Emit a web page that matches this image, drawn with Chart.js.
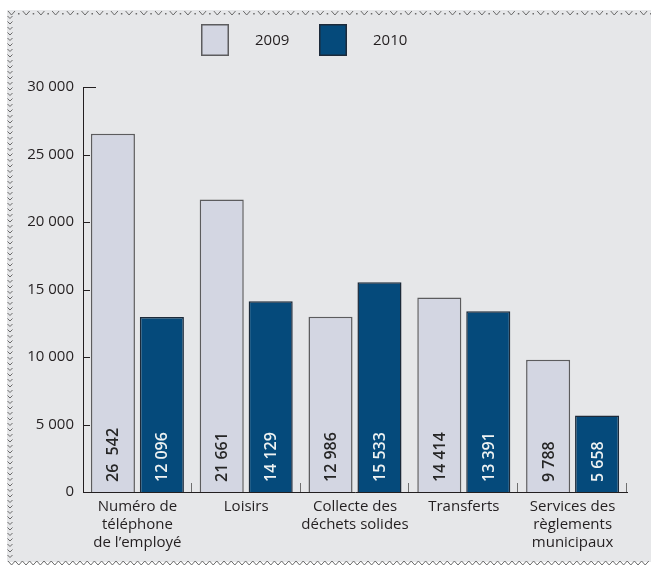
<!DOCTYPE html>
<html>
<head>
<meta charset="utf-8">
<script src="https://cdn.jsdelivr.net/npm/chart.js@4/dist/chart.umd.min.js"></script>
<style>
  html, body { margin: 0; padding: 0; background: #fff; }
  #wrap { width: 651px; height: 565px; position: relative; }
</style>
</head>
<body>
<div id="wrap"><canvas id="chart"></canvas></div>
<script>
const categories = [
  ['Numéro de', 'téléphone', 'de l’employé'],
  'Loisirs',
  ['Collecte des', 'déchets solides'],
  'Transferts',
  ['Services des', 'règlements', 'municipaux']
];
const seriesNames = ['2009', '2010'];
const values2009 = [26542, 21661, 12986, 14414, 9788];
// first 2010 bar is drawn near 13 000 in the source although printed 12 096
const values2010 = [12960, 14129, 15533, 13391, 5658];
const labels2009 = ['26  542', '21 661', '12 986', '14 414', '9 788'];
const labels2010 = ['12 096', '14 129', '15 533', '13 391', '5 658'];
const yMin = 0;
const yMax = 30000;
const yStep = 5000;

const FONT = '"Open Sans", "Noto Sans", sans-serif';
const INK = '#231f20';

function fmt(v) {
  return String(v).replace(/\B(?=(\d{3})+(?!\d))/g, ' ');
}

// page frame: grey panel with the little chevron border
const framePlugin = {
  id: 'frame',
  beforeDraw(chart) {
    const ctx = chart.ctx;
    const W = chart.width, H = chart.height;
    ctx.save();
    ctx.fillStyle = '#ffffff';
    ctx.fillRect(0, 0, W, H);
    ctx.fillStyle = '#e6e7e9';
    ctx.fillRect(7, 10, W - 7, 552);
    ctx.strokeStyle = '#6a6a6a';
    ctx.fillStyle = '#6a6a6a';
    ctx.lineWidth = 1;
    // top
    for (let x = 8; x < W; x += 14.7) {
      ctx.beginPath();
      ctx.moveTo(x, 11);
      ctx.lineTo(x + 3.5, 15);
      ctx.lineTo(x + 7, 11);
      ctx.stroke();
      ctx.fillRect(x + 10, 13, 1.5, 1.5);
    }
    // left
    for (let y = 16; y < 560; y += 5.5) {
      ctx.beginPath();
      ctx.moveTo(7.5, y);
      ctx.lineTo(10, y + 2.5);
      ctx.lineTo(12.5, y);
      ctx.stroke();
    }
    // bottom
    ctx.beginPath();
    for (let x = 8, up = true; x < W; x += 3.6, up = !up) {
      ctx.lineTo(x, up ? 561 : 565);
    }
    ctx.stroke();
    ctx.restore();
  }
};

// legend, inner axis ticks, category separators and value labels
const decoPlugin = {
  id: 'deco',
  afterDraw(chart) {
    const ctx = chart.ctx;
    const ys = chart.scales.y, xs = chart.scales.x;
    ctx.save();

    // y ticks pointing inside
    ctx.strokeStyle = INK;
    ctx.lineWidth = 1;
    ys.ticks.forEach(t => {
      if (t.value === yMin) return;
      const py = Math.round(ys.getPixelForValue(t.value)) + 0.5;
      const len = t.value === yMax ? 13 : 7;
      ctx.beginPath();
      ctx.moveTo(ys.right, py);
      ctx.lineTo(ys.right + len, py);
      ctx.stroke();
    });

    // category separators on the x axis
    const n = categories.length;
    const w = (xs.right - xs.left) / n;
    ctx.strokeStyle = '#6f6f6f';
    for (let i = 1; i <= n; i++) {
      const px = Math.round(xs.left + i * w) - 0.5;
      ctx.beginPath();
      ctx.moveTo(px, xs.top - 9);
      ctx.lineTo(px, xs.top);
      ctx.stroke();
    }

    // legend
    const legendX = [201, 319];
    chart.data.datasets.forEach((ds, i) => {
      ctx.fillStyle = ds.backgroundColor;
      ctx.fillRect(legendX[i], 24, 28, 32);
      ctx.strokeStyle = ds.borderColor;
      ctx.lineWidth = 1.5;
      ctx.strokeRect(legendX[i] + 0.75, 24.75, 26.5, 30.5);
      ctx.fillStyle = INK;
      ctx.font = '15px ' + FONT;
      ctx.textAlign = 'left';
      ctx.textBaseline = 'middle';
      ctx.fillText(ds.label, legendX[i] + 54, 41);
    });

    // rotated value labels at the foot of each bar
    const texts = [labels2009, labels2010];
    const colors = ['#262626', '#eef2f2'];
    ctx.font = '600 16px ' + FONT;
    ctx.textAlign = 'left';
    ctx.textBaseline = 'middle';
    chart.data.datasets.forEach((ds, di) => {
      chart.getDatasetMeta(di).data.forEach((bar, j) => {
        ctx.save();
        ctx.translate(bar.x, bar.base - 10);
        ctx.rotate(-Math.PI / 2);
        ctx.fillStyle = colors[di];
        ctx.fillText(texts[di][j], 0, 1);
        ctx.restore();
      });
    });
    ctx.restore();
  }
};

new Chart(document.getElementById('chart'), {
  type: 'bar',
  data: {
    labels: categories,
    datasets: [
      {
        label: seriesNames[0],
        data: values2009,
        backgroundColor: '#d3d6e2',
        borderColor: '#5c5c5e',
        borderWidth: 1.5,
        categoryPercentage: 0.9,
        barPercentage: 0.9
      },
      {
        label: seriesNames[1],
        data: values2010,
        backgroundColor: '#054a7b',
        borderColor: '#1c2a3a',
        borderWidth: 1.5,
        categoryPercentage: 0.9,
        barPercentage: 0.9
      }
    ]
  },
  options: {
    responsive: true,
    maintainAspectRatio: false,
    animation: false,
    layout: { padding: { top: 87, right: 24, bottom: 0, left: 0 } },
    plugins: {
      legend: { display: false },
      tooltip: { enabled: false }
    },
    scales: {
      x: {
        grid: { display: false, drawTicks: false },
        border: { display: true, color: INK, width: 1 },
        ticks: {
          color: INK,
          font: { family: FONT, size: 15, lineHeight: 1.2 },
          padding: 6,
          maxRotation: 0,
          autoSkip: false
        },
        afterFit(scale) { scale.height = 73; }
      },
      y: {
        min: yMin,
        max: yMax,
        grid: { display: false, drawTicks: false },
        border: { display: true, color: INK, width: 1 },
        ticks: {
          stepSize: yStep,
          color: INK,
          padding: 9,
          font: { family: FONT, size: 15 },
          callback: v => fmt(v)
        },
        afterFit(scale) { scale.width = 83; }
      }
    }
  },
  plugins: [framePlugin, decoPlugin]
});
</script>
</body>
</html>
